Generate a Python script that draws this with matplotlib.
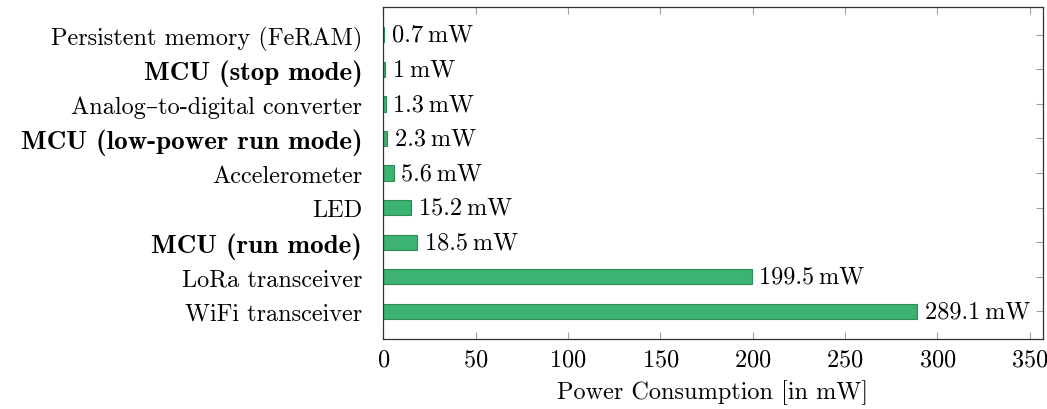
import matplotlib
matplotlib.use('Agg')
from matplotlib import pyplot as plt

plt.rcParams['font.family'] = ['cmr10', 'DejaVu Serif']
plt.rcParams['axes.formatter.use_mathtext'] = True
plt.rcParams['font.size'] = 17.5

# power draw per component, top row first
components = [
    'Persistent memory (FeRAM)',
    'MCU (stop mode)',
    'Analog\u2013to-digital converter',
    'MCU (low-power run mode)',
    'Accelerometer',
    'LED',
    'MCU (run mode)',
    'LoRa transceiver',
    'WiFi transceiver',
]
power_mw = [0.7, 1.0, 1.3, 2.3, 5.6, 15.2, 18.5, 199.5, 289.1]
bold_rows = [False, True, False, True, False, False, True, False, False]
x_ticks = [0, 50, 100, 150, 200, 250, 300, 350]

fig = plt.figure(figsize=(10.47, 4.10), dpi=100)
ax = fig.add_axes([0.366, 0.171, 0.630, 0.809])
ax.set_axisbelow(True)

ypos = list(range(len(components)))
ax.barh(ypos, power_mw, height=0.44, color='#3cb371', edgecolor='#2e8b57', linewidth=0.8)

for y, v in zip(ypos, power_mw):
    ax.annotate('{:g}\u2009mW'.format(v), xy=(v, y), xytext=(5.5, 0),
                textcoords='offset points', va='center', ha='left')

ax.set_yticks(ypos)
ax.set_yticklabels(components)
# no cmbx10 available, so the bold rows get cmb10 a bit larger
for lbl, b in zip(ax.get_yticklabels(), bold_rows):
    if b:
        lbl.set_fontfamily(['cmb10', 'DejaVu Serif'])
        lbl.set_fontsize(19.5)
ax.set_ylim(len(components) - 0.2, -0.8)

ax.set_xlim(0, 357)
ax.set_xticks(x_ticks)
ax.set_xlabel('Power Consumption [in mW]', labelpad=6)

ax.tick_params(direction='in', top=True, right=True, left=False,
               color='#a0a0a0', length=5, width=0.8)
ax.tick_params(axis='y', pad=15)
ax.tick_params(axis='x', pad=7)
for s in ax.spines.values():
    s.set_linewidth(0.9)
    s.set_color('#333333')

fig.savefig('out.png', dpi=100)
